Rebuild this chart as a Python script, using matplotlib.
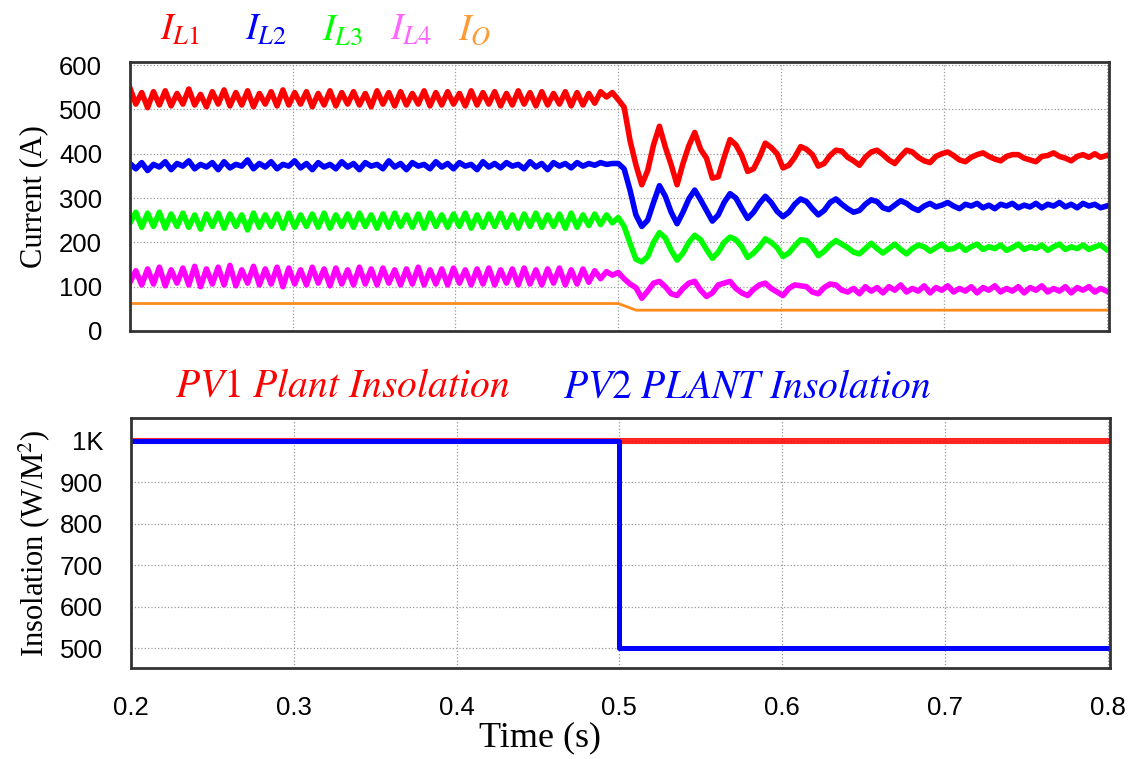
import numpy as np
import matplotlib
matplotlib.use('Agg')
import matplotlib.pyplot as plt

plt.rcParams['mathtext.fontset'] = 'stix'

# ---- data ----
# inductor currents (A), sampled on a uniform grid from 0.2 s to 0.8 s
i_l1 = [548, 512, 538, 504, 540, 510, 542, 508, 536, 512,
        546, 510, 534, 506, 540, 512, 544, 508, 538, 510,
        542, 506, 536, 512, 540, 508, 544, 510, 538, 512,
        540, 506, 536, 510, 542, 508, 538, 512, 540, 510,
        536, 506, 542, 512, 538, 508, 540, 510, 536, 512,
        542, 508, 538, 510, 540, 512, 536, 508, 542, 510,
        538, 512, 540, 508, 536, 510, 542, 512, 538, 508,
        540, 510, 536, 512, 540, 508, 538, 510, 536, 514,
        540, 528, 538,
        522, 505, 430, 375, 330, 362, 420, 462, 415, 375,
        330, 378, 418, 448, 410, 390, 345, 348, 392, 432,
        420, 396, 360, 366, 392, 424, 414, 400, 368, 374,
        392, 416, 410, 398, 372, 378, 396, 408, 406, 392,
        384, 374, 392, 404, 408, 398, 386, 378, 394, 408,
        404, 392, 384, 380, 394, 400, 404, 396, 386, 382,
        392, 398, 402, 394, 388, 384, 394, 398, 398, 390,
        386, 382, 394, 396, 402, 394, 390, 384, 394, 398,
        392, 400, 392, 396]

i_l2 = [378, 366, 380, 362, 376, 370, 382, 364, 378, 372,
        384, 366, 376, 370, 380, 364, 382, 368, 376, 372,
        386, 366, 378, 370, 382, 366, 376, 372, 384, 368,
        378, 364, 380, 370, 376, 366, 382, 370, 378, 364,
        380, 372, 376, 366, 384, 370, 378, 364, 380, 372,
        376, 366, 382, 370, 378, 366, 380, 372, 376, 364,
        382, 370, 378, 368, 380, 372, 376, 366, 382, 370,
        378, 364, 380, 372, 378, 368, 380, 372, 378, 374,
        380, 376, 378,
        378, 366, 318, 262, 236, 250, 290, 328, 304, 268,
        242, 268, 298, 318, 296, 272, 248, 262, 290, 310,
        300, 276, 254, 268, 288, 304, 290, 270, 258, 268,
        286, 298, 292, 276, 262, 272, 290, 298, 286, 276,
        268, 272, 286, 296, 292, 278, 274, 284, 294, 288,
        278, 272, 282, 288, 280, 284, 290, 282, 276, 286,
        282, 288, 278, 284, 276, 286, 282, 288, 278, 284,
        280, 288, 278, 286, 282, 290, 280, 286, 278, 288,
        282, 286, 278, 282]

i_l3 = [244, 268, 234, 266, 236, 268, 232, 264, 236, 266,
        234, 262, 230, 264, 236, 266, 232, 264, 236, 262,
        228, 266, 234, 262, 236, 264, 232, 266, 234, 262,
        236, 264, 234, 266, 232, 262, 236, 264, 234, 266,
        236, 262, 232, 264, 234, 266, 236, 262, 234, 264,
        232, 266, 236, 262, 234, 264, 236, 266, 232, 262,
        234, 264, 236, 266, 234, 262, 232, 264, 236, 266,
        234, 262, 236, 264, 232, 266, 234, 262, 238, 264,
        240, 262, 244,
        256, 236, 198, 162, 156, 168, 200, 222, 210, 182,
        160, 176, 200, 216, 206, 184, 164, 178, 200, 212,
        206, 190, 166, 176, 190, 208, 200, 188, 168, 176,
        192, 206, 204, 190, 170, 180, 194, 204, 196, 188,
        178, 174, 186, 198, 186, 176, 186, 196, 184, 174,
        186, 194, 190, 180, 188, 196, 184, 186, 194, 182,
        190, 196, 184, 190, 186, 194, 182, 188, 196, 184,
        190, 186, 194, 182, 190, 196, 184, 190, 186, 194,
        184, 190, 194, 184]

i_l4 = [110, 136, 104, 140, 106, 144, 102, 138, 108, 142,
        104, 146, 100, 140, 106, 144, 104, 148, 102, 138,
        108, 146, 104, 140, 106, 144, 100, 142, 106, 138,
        104, 144, 108, 140, 102, 142, 106, 138, 104, 144,
        106, 140, 104, 142, 108, 138, 104, 140, 106, 144,
        104, 138, 106, 140, 104, 142, 108, 138, 104, 140,
        106, 142, 104, 138, 108, 140, 104, 142, 106, 138,
        104, 140, 108, 142, 104, 138, 106, 140, 110, 136,
        118, 134, 126,
        132, 118, 106, 98, 74, 90, 108, 112, 100, 84,
        80, 96, 108, 112, 92, 78, 86, 104, 108, 112,
        96, 86, 80, 94, 104, 108, 96, 88, 80, 96,
        104, 102, 100, 88, 84, 98, 106, 104, 92, 88,
        96, 84, 100, 90, 98, 86, 100, 92, 104, 88,
        96, 90, 102, 86, 98, 92, 102, 88, 96, 90,
        100, 86, 98, 92, 102, 88, 96, 90, 100, 86,
        98, 92, 102, 88, 96, 90, 100, 86, 98, 92,
        100, 88, 96, 90]

# output current breakpoints
io_t = [0.2, 0.5, 0.511, 0.8]
i_o = [62, 62, 47, 47]

# insolation (W/m^2)
pv1_t = [0.2, 0.8]
pv1 = [1000, 1000]
pv2_t = [0.2, 0.5, 0.5, 0.8]
pv2 = [1000, 1000, 500, 500]

x_ticks = [0.2, 0.3, 0.4, 0.5, 0.6, 0.7, 0.8]
top_yticks = [0, 100, 200, 300, 400, 500, 600]
bot_yticks = [500, 600, 700, 800, 900, 1000]
bot_ylabels = ['500', '600', '700', '800', '900', '1K']

tick_font = ['Liberation Sans Narrow', 'Liberation Sans', 'DejaVu Sans']
serif = ['Liberation Serif', 'DejaVu Serif']

fig = plt.figure(figsize=(11.33, 7.59), dpi=100)
ax1 = fig.add_axes([0.1147, 0.5639, 0.8641, 0.3544])
ax2 = fig.add_axes([0.1156, 0.1199, 0.8641, 0.3294])

for series, col in [(i_l1, '#FF0000'), (i_l2, '#0000FF'),
                    (i_l3, '#00FF00'), (i_l4, '#FF00FF')]:
    t = np.linspace(0.2, 0.8, len(series))
    ax1.plot(t, series, color=col, lw=4.0, solid_joinstyle='round')
ax1.plot(io_t, i_o, color='#FF8C1A', lw=2.0)

ax1.set_xlim(0.2, 0.8015)
ax1.set_ylim(0, 607)
ax1.set_xticks(x_ticks)
ax1.set_xticklabels([])
ax1.set_yticks(top_yticks)
ax1.set_ylabel('Current (A)', fontsize=22, family=serif, labelpad=8)

ax2.plot(pv1_t, pv1, color='#FF0000', lw=4.4, alpha=0.85)
ax2.plot(pv2_t, pv2, color='#0000FF', lw=3.6)
ax2.set_xlim(0.2, 0.8015)
ax2.set_ylim(452, 1055)
ax2.set_xticks(x_ticks)
ax2.set_xticklabels([str(v) for v in x_ticks])
ax2.set_yticks(bot_yticks)
ax2.set_yticklabels(bot_ylabels)
ax2.set_ylabel('Insolation (W/M$^2$)', fontsize=22, family=serif, labelpad=6)

for ax in (ax1, ax2):
    ax.grid(True, ls=':', color='#9a9a9a', lw=0.9)
    ax.set_axisbelow(True)
    ax.tick_params(length=0, labelsize=18.5, pad=20)
    for lab in ax.get_xticklabels() + ax.get_yticklabels():
        lab.set_family(tick_font)
    for sp in ax.spines.values():
        sp.set_color('#333333')
        sp.set_linewidth(2.0)

fig.text(540 / 1133, 1 - 738 / 759, 'Time (s)', fontsize=26, family=serif,
         ha='center', va='center')

# legend labels written above the panels
fig.text(160 / 1133, 1 - 30 / 759, r'$I_{L1}$', color='#FF0000', fontsize=27, va='center')
fig.text(245 / 1133, 1 - 30 / 759, r'$I_{L2}$', color='#0000FF', fontsize=27, va='center')
fig.text(322 / 1133, 1 - 30 / 759, r'$I_{L3}$', color='#00FF00', fontsize=27, va='center')
fig.text(390 / 1133, 1 - 30 / 759, r'$I_{L4}$', color='#FF66FF', fontsize=27, va='center')
fig.text(458 / 1133, 1 - 30 / 759, r'$I_O$', color='#FF9933', fontsize=27, va='center')

fig.text(175 / 1133, 1 - 386 / 759, r'$PV1\ Plant\ Insolation$', color='#FF0000',
         fontsize=28.5, va='center')
fig.text(563 / 1133, 1 - 386 / 759, r'$PV2\ PLANT\ Insolation$', color='#0000FF',
         fontsize=28.5, va='center')

fig.savefig('out.png', dpi=100)
